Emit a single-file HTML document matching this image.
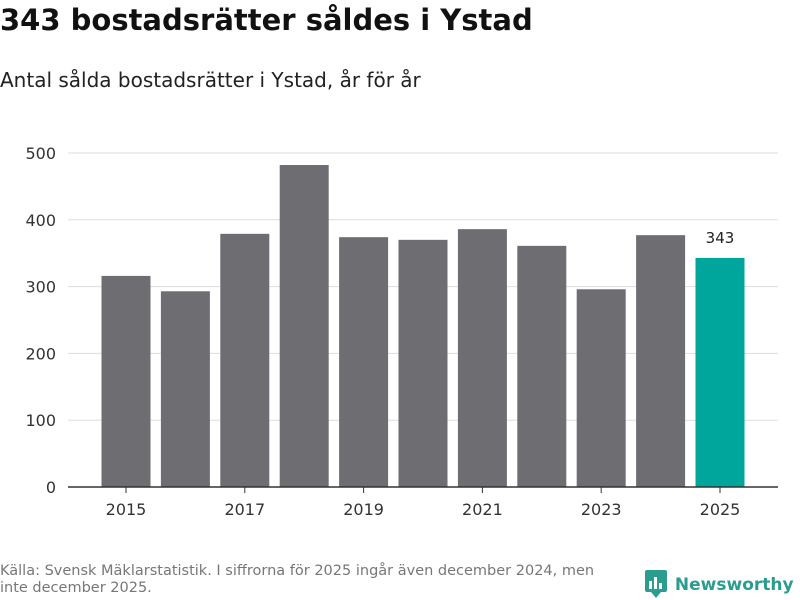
<!DOCTYPE html>
<html><head><meta charset="utf-8"><style>
body{margin:0;width:800px;height:600px;background:#fff;font-family:"DejaVu Sans","Liberation Sans",sans-serif;overflow:hidden;position:relative}
h1{position:absolute;left:0;top:3px;margin:0;font-size:29px;font-weight:bold;color:#111}
.sub{position:absolute;left:0;top:68px;font-size:20px;color:#222}
.src{position:absolute;left:0;top:563px;font-size:14.5px;color:#777;line-height:17px;width:620px}
.logo{position:absolute;left:645px;top:568px;font-size:17px;font-weight:bold;color:#2a9d8f;white-space:nowrap}
</style></head><body>
<h1>343 bostadsrätter såldes i Ystad</h1>
<div class="sub">Antal sålda bostadsrätter i Ystad, år för år</div>
<svg id="c" width="800" height="600" style="position:absolute;left:0;top:0"></svg>
<div class="src">Källa: Svensk Mäklarstatistik. I siffrorna för 2025 ingår även december 2024, men inte december 2025.</div>
<div class="logo"><svg width="24" height="30" style="vertical-align:-8px"><rect x="0" y="2" width="22" height="22" rx="2" fill="#2a9d8f"/><path d="M6 24 L11 30 L16 24Z" fill="#2a9d8f"/><rect x="4" y="13" width="3" height="8" fill="#fff"/><rect x="9" y="9" width="3" height="12" fill="#fff"/><rect x="14" y="15" width="3" height="6" fill="#fff"/></svg> Newsworthy</div>
<script>
const years=[2015,2016,2017,2018,2019,2020,2021,2022,2023,2024,2025];
const values=[316,293,379,482,374,370,386,361,296,377,343];
const yTicks=[0,100,200,300,400,500];
const xLabels=[2015,2017,2019,2021,2023,2025];
const svg=document.getElementById('c');const NS='http://www.w3.org/2000/svg';
const y=v=>487-v*0.668;
const x=i=>126+59.4*i;
function mk(t,a){const e=document.createElementNS(NS,t);for(const k in a)e.setAttribute(k,a[k]);svg.appendChild(e);return e;}
yTicks.forEach(v=>{
 if(v>0){const l=mk('line',{x1:68,x2:778,y1:y(v),y2:y(v),stroke:'#ddd','stroke-width':1});
 
 }
 const t=mk('text',{x:56,y:y(v)+6,'text-anchor':'end','font-size':16,fill:'#333'});t.textContent=v;
 
 
});
values.forEach((v,i)=>{
 const r=mk('rect',{x:x(i)-24.5,y:y(v),width:49,height:487-y(v),fill:i==values.length-1?'#00a59b':'#6e6d72'});
 
 
});
const last=values.length-1;
const vl=mk('text',{x:x(last),y:y(values[last])-15,'text-anchor':'middle','font-size':15,fill:'#222'});vl.textContent=values[last];


const ax=mk('line',{x1:68,x2:778,y1:487,y2:487,stroke:'#333','stroke-width':1.5});


xLabels.forEach(yr=>{const i=years.indexOf(yr);
 const tk=mk('line',{x1:x(i),x2:x(i),y1:487,y2:493,stroke:'#333'});
 
 
 const t=mk('text',{x:x(i),y:515,'text-anchor':'middle','font-size':16,fill:'#333'});t.textContent=yr;
 
 
});
</script>
</body></html>
